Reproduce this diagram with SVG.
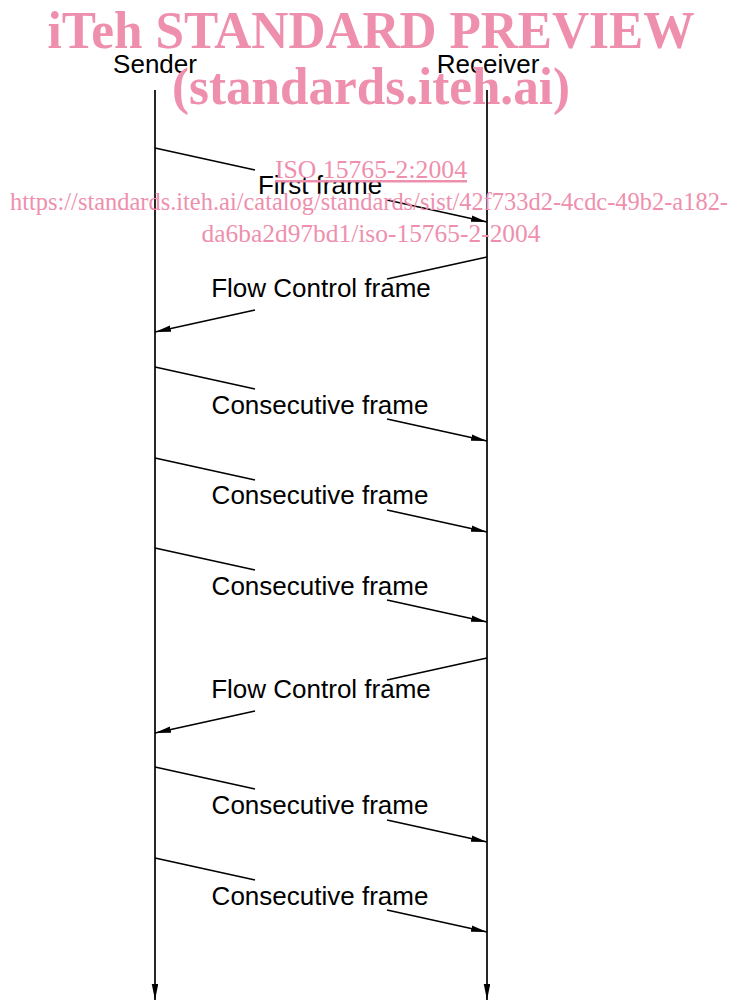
<svg xmlns="http://www.w3.org/2000/svg" width="733" height="1003" viewBox="0 0 733 1003">
<style>
.ln{stroke:#000;stroke-width:1.7;fill:none}
.lbl{font-family:"Liberation Sans",Arial,sans-serif;font-size:26px;fill:#000;text-anchor:middle}
.wm{font-family:"Liberation Serif","Times New Roman",serif;fill:#ef8fae;text-anchor:middle}
</style>
<defs>
<marker id="ah" markerUnits="userSpaceOnUse" markerWidth="17" markerHeight="8" refX="16" refY="3.25" orient="auto">
<path d="M0,0 L16,3.25 L0,6.5 Z" fill="#000"/>
</marker>
</defs>
<rect width="733" height="1003" fill="#fff"/>
<g id="sender">
<text class="lbl" x="155" y="73">Sender</text>
<line class="ln" x1="155" y1="90" x2="155" y2="1000" marker-end="url(#ah)"/>
</g>
<g id="receiver">
<text class="lbl" x="488" y="73">Receiver</text>
<line class="ln" x1="487" y1="90" x2="487" y2="1000" marker-end="url(#ah)"/>
</g>
<g id="connectors">
<g id="m1"><polyline class="ln" points="155,148 255,170"/><line class="ln" x1="387" y1="200" x2="487" y2="222" marker-end="url(#ah)"/><text class="lbl" x="320" y="194">First frame</text></g>
<g id="m2"><polyline class="ln" points="487,257 387,279"/><line class="ln" x1="255" y1="310" x2="155" y2="332" marker-end="url(#ah)"/><text class="lbl" x="321" y="297">Flow Control frame</text></g>
<g id="m3"><polyline class="ln" points="155,367 255,389"/><line class="ln" x1="387" y1="419" x2="487" y2="441" marker-end="url(#ah)"/><text class="lbl" x="320" y="414">Consecutive frame</text></g>
<g id="m4"><polyline class="ln" points="155,458 255,480"/><line class="ln" x1="387" y1="510" x2="487" y2="532" marker-end="url(#ah)"/><text class="lbl" x="320" y="504">Consecutive frame</text></g>
<g id="m5"><polyline class="ln" points="155,548 255,570"/><line class="ln" x1="387" y1="600" x2="487" y2="622" marker-end="url(#ah)"/><text class="lbl" x="320" y="595">Consecutive frame</text></g>
<g id="m6"><polyline class="ln" points="487,658 387,680"/><line class="ln" x1="255" y1="711" x2="155" y2="733" marker-end="url(#ah)"/><text class="lbl" x="321" y="698">Flow Control frame</text></g>
<g id="m7"><polyline class="ln" points="155,767 255,789"/><line class="ln" x1="387" y1="820" x2="487" y2="842" marker-end="url(#ah)"/><text class="lbl" x="320" y="814">Consecutive frame</text></g>
<g id="m8"><polyline class="ln" points="155,858 255,880"/><line class="ln" x1="387" y1="910" x2="487" y2="932" marker-end="url(#ah)"/><text class="lbl" x="320" y="905">Consecutive frame</text></g>
</g>
<g id="watermark">
<text class="wm" x="371" y="48" font-size="52" font-weight="bold" textLength="647" lengthAdjust="spacingAndGlyphs">iTeh STANDARD PREVIEW</text>
<text class="wm" x="371" y="104" font-size="52" font-weight="bold" textLength="398" lengthAdjust="spacingAndGlyphs">(standards.iteh.ai)</text>
<text class="wm" x="371" y="178" font-size="25" text-decoration="underline" textLength="192" lengthAdjust="spacingAndGlyphs">ISO 15765-2:2004</text>
<text class="wm" x="369" y="210" font-size="25" textLength="718" lengthAdjust="spacingAndGlyphs">https://standards.iteh.ai/catalog/standards/sist/42f733d2-4cdc-49b2-a182-</text>
<text class="wm" x="371" y="242" font-size="25" textLength="339" lengthAdjust="spacingAndGlyphs">da6ba2d97bd1/iso-15765-2-2004</text>
</g>
</svg>
